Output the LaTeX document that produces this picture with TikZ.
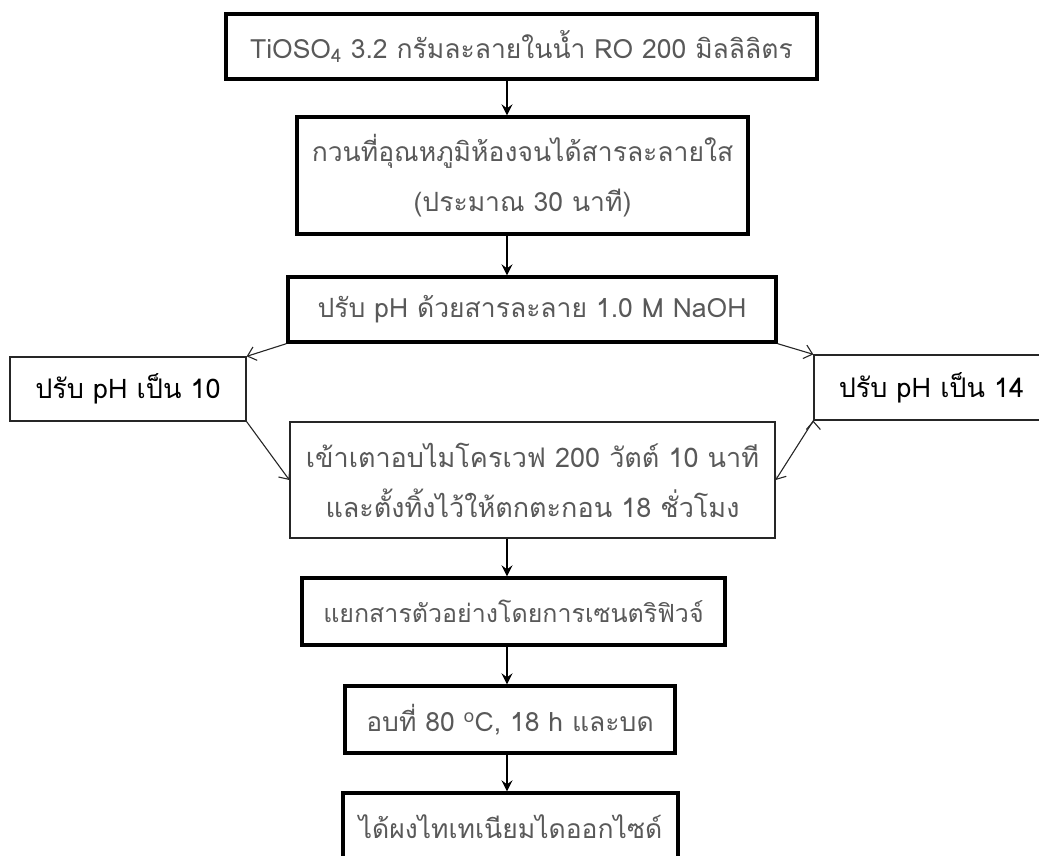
\documentclass[tikz,border=0pt]{standalone}
\usepackage{fontspec}
\setmainfont[Script=Thai]{Loma}
\usepackage{tikz}
\usetikzlibrary{arrows.meta}
\tikzset{
    proc/.style={
           rectangle,
           draw=black, line width=3.4pt,
           text=black!65,
           inner sep=2pt,
           align=center,
           font=\fontsize{26.5}{50}\selectfont,
           },
    plain/.style={
           rectangle,
           draw=black!85, line width=1.3pt,
           text=black!65,
           inner sep=2pt,
           align=center,
           font=\fontsize{27}{50}\selectfont,
           },
    side/.style={
           rectangle,
           draw=black!85, line width=1.3pt,
           text=black,
           inner sep=2pt,
           align=center,
           font=\fontsize{27}{48}\selectfont,
           },
    down/.style={-{Stealth[length=11pt,width=11pt,inset=4pt]}, line width=1.4pt},
    diag/.style={-{Straight Barb[length=8pt,width=14pt]}, line width=1.1pt, draw=black!85},
}

\begin{document}
\begin{tikzpicture}[x=1pt,y=-1pt]
      \useasboundingbox (0,0) rectangle (1039,855);
      \clip (0,0) rectangle (1039,855);
      \node[proc,minimum width=591pt,minimum height=65pt]  (s_1) at (521.5,46.5)
            {TiOSO\textsubscript{4} 3.2 กรัมละลายในน้ำ RO 200 มิลลิลิตร};
      \node[proc,minimum width=451pt,minimum height=117pt] (s_2) at (522.5,175.5)
            {กวนที่อุณหภูมิห้องจนได้สารละลายใส\\(ประมาณ 30 นาที)};
      \node[proc,minimum width=488pt,minimum height=65pt]  (s_3) at (532,309.5)
            {ปรับ pH ด้วยสารละลาย 1.0 M NaOH};
      \node[side,minimum width=236pt,minimum height=64pt]  (ph_10) at (128,389)
            {ปรับ pH เป็น 10};
      \node[side,minimum width=231pt,minimum height=65pt]  (ph_14) at (929.5,387.5)
            {\hspace*{4pt}ปรับ pH เป็น 14};
      \node[plain,minimum width=485pt,minimum height=116pt] (s_4) at (532.5,480)
            {เข้าเตาอบไมโครเวฟ 200 วัตต์ 10 นาที\\และตั้งทิ้งไว้ให้ตกตะกอน 18 ชั่วโมง};
      \node[proc,minimum width=423pt,minimum height=67pt,font=\fontsize{25}{50}\selectfont]
            (s_5) at (513.5,611.5) {แยกสารตัวอย่างโดยการเซนตริฟิวจ์};
      \node[proc,minimum width=330pt,minimum height=67pt]  (s_6) at (510,719.5)
            {อบที่ 80 \textsuperscript{o}C, 18 h และบด};
      \node[proc,minimum width=335pt,minimum height=67pt]  (s_7) at (510.5,826.5)
            {ได้ผงไทเทเนียมไดออกไซด์};
      \coordinate (ax) at (507,0);
      \path[down]
      (s_1.south -| ax) edge (s_2.north -| ax)
      (s_2.south -| ax) edge (s_3.north -| ax)
      (s_4.south -| ax) edge (s_5.north -| ax)
      (s_5.south -| ax) edge (s_6.north -| ax)
      (s_6.south -| ax) edge (s_7.north -| ax);
      \path[diag]
      (s_3.south west)  edge (ph_10.north east)
      (ph_10.south east) edge (s_4.west)
      (s_3.south east)  edge (ph_14.north west)
      (ph_14.south west) edge (s_4.east);
    \end{tikzpicture}
\end{document}
